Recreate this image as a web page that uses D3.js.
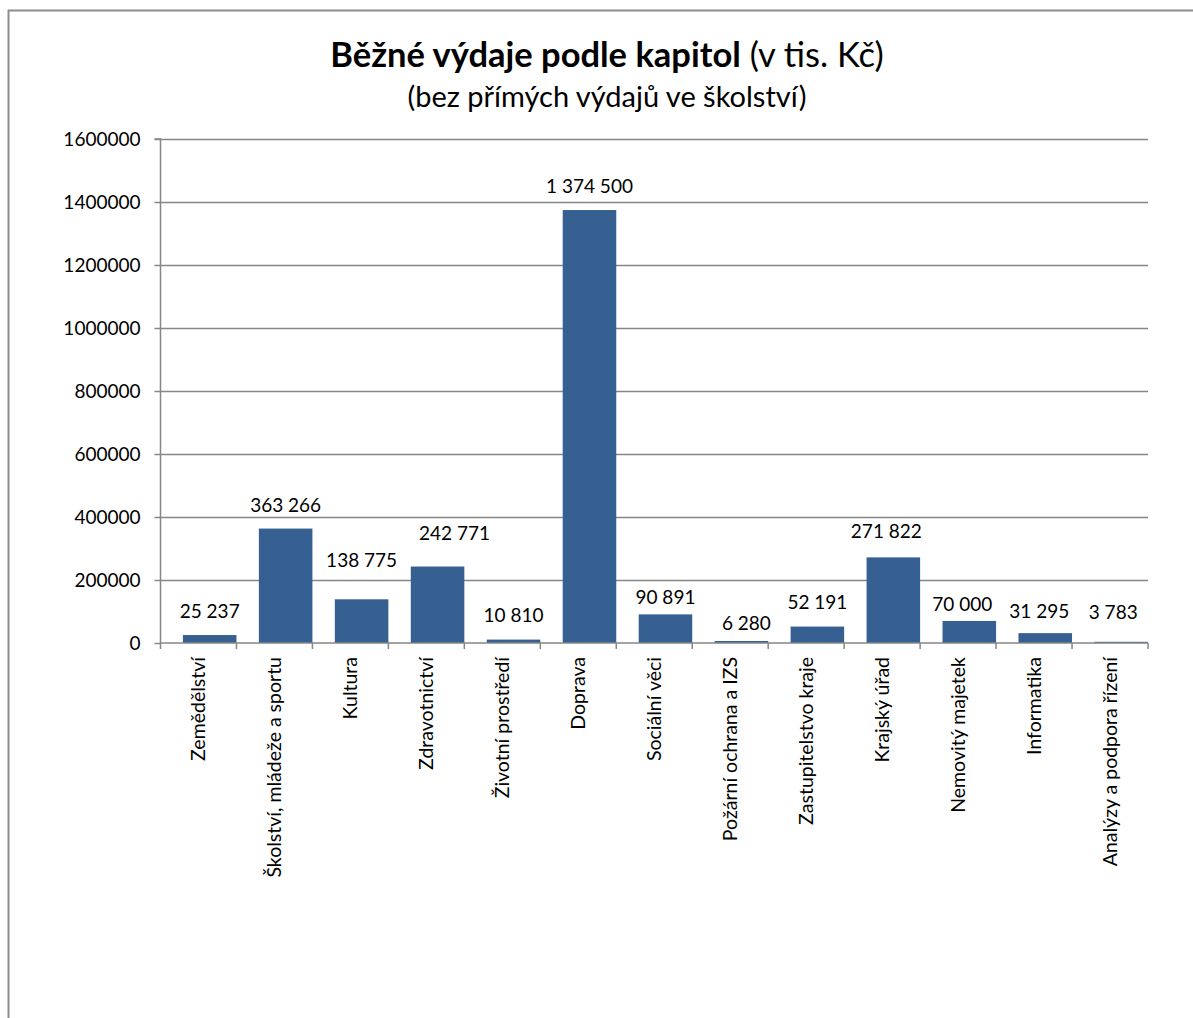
<script src="https://cdn.jsdelivr.net/npm/d3@7"></script>
<style>
  body { margin: 0; background: #fff; }
  text { font-family: Lato, "Liberation Sans", sans-serif; fill: #000; }
</style>
<div id="chart"></div>
<script>
var categories = ["Zemědělství", "Školství, mládeže a sportu", "Kultura", "Zdravotnictví",
  "Životní prostředí", "Doprava", "Sociální věci", "Požární ochrana a IZS",
  "Zastupitelstvo kraje", "Krajský úřad", "Nemovitý majetek", "Informatika",
  "Analýzy a podpora řízení"];
var values = [25237, 363266, 138775, 242771, 10810, 1374500, 90891, 6280, 52191, 271822, 70000, 31295, 3783];
var yTicks = [0, 200000, 400000, 600000, 800000, 1000000, 1200000, 1400000, 1600000];

// hand-placed data label nudges from the original (px): shift right, lift above bar top
var labelDx = [0, 0, 0, 17, 0, 0, 0, 5, 0, -7, -7, -6, -8];
var labelLift = [17, 17, 32, 27, 17.5, 17, 10, 11, 17.5, 19, 10, 15, 23];

var W = 1193, H = 1018;
var plotLeft = 160.5, plotRight = 1148, plotTop = 139, plotBottom = 643;

var svg = d3.select("#chart").append("svg")
    .attr("width", W).attr("height", H);

// outer frame
svg.append("rect")
    .attr("x", 8.5).attr("y", 10.5)
    .attr("width", W + 10).attr("height", H + 10)
    .attr("fill", "none").attr("stroke", "#8c8c8c").attr("stroke-width", 2);

// category slots, bars sit in the right part of each slot (as in the original)
var x = d3.scaleBand().domain(categories).range([plotLeft, plotRight]).padding(0);
var barX = function(c) { return x(c) + x.step() * 0.295; };
var barW = x.step() * 0.705;
var y = d3.scaleLinear().domain([0, 1600000]).range([plotBottom, plotTop]);

var locale = d3.formatLocale({decimal: ",", thousands: "\u00a0", grouping: [3], currency: ["", " Kč"]});
var fmt = locale.format(",d");

// gridlines
svg.append("g").selectAll("line").data(yTicks.filter(function(d) { return d > 0; }))
  .enter().append("line")
    .attr("x1", plotLeft).attr("x2", plotRight)
    .attr("y1", function(d) { return Math.round(y(d)) + 0.5; })
    .attr("y2", function(d) { return Math.round(y(d)) + 0.5; })
    .attr("stroke", "#868686").attr("stroke-width", 1.5);

// y axis
var yAxis = svg.append("g")
    .attr("transform", "translate(" + plotLeft + ",0)")
    .call(d3.axisLeft(y).tickValues(yTicks).tickSize(6).tickPadding(14).tickFormat(d3.format("d")));
yAxis.select(".domain").attr("stroke", "#868686").attr("stroke-width", 1.5)
    .attr("d", "M-6," + plotTop + "H0V" + plotBottom);
yAxis.selectAll(".tick line").attr("stroke", "#868686").attr("stroke-width", 1.5);
yAxis.selectAll(".tick text").style("font-size", "19px").attr("fill", "#000");

// bars
svg.append("g").selectAll("rect").data(values).enter().append("rect")
    .attr("x", function(d, i) { return barX(categories[i]); })
    .attr("y", function(d) { return y(d); })
    .attr("width", barW)
    .attr("height", function(d) { return plotBottom - y(d); })
    .attr("fill", "#376092");

// x axis line and category ticks
svg.append("line")
    .attr("x1", plotLeft).attr("x2", plotRight)
    .attr("y1", plotBottom).attr("y2", plotBottom)
    .attr("stroke", "#868686").attr("stroke-width", 1.5);
var bounds = categories.map(function(c) { return x(c); }).concat([plotRight]);
svg.append("g").selectAll("line").data(bounds).enter().append("line")
    .attr("x1", function(d) { return d; }).attr("x2", function(d) { return d; })
    .attr("y1", plotBottom).attr("y2", plotBottom + 6)
    .attr("stroke", "#868686").attr("stroke-width", 1.5);

// data labels
svg.append("g").selectAll("text").data(values).enter().append("text")
    .attr("x", function(d, i) { return barX(categories[i]) + barW / 2 + labelDx[i]; })
    .attr("y", function(d, i) { return y(d) - labelLift[i]; })
    .attr("text-anchor", "middle")
    .style("font-size", "19px")
    .text(function(d) { return fmt(d); });

// category labels
svg.append("g").selectAll("text").data(categories).enter().append("text")
    .attr("transform", function(d) {
      return "translate(" + (x(d) + x.step() / 2) + "," + (plotBottom + 14) + ") rotate(-90)";
    })
    .attr("dy", "0.35em")
    .attr("text-anchor", "end")
    .style("font-size", "19.5px")
    .text(function(d) { return d; });

// title
var title = svg.append("text")
    .attr("x", 607).attr("y", 67)
    .attr("text-anchor", "middle")
    .style("font-size", "34.5px");
title.append("tspan").style("font-weight", "bold").text("Běžné výdaje podle kapitol");
title.append("tspan").text(" (v tis. Kč)");

svg.append("text")
    .attr("x", 607).attr("y", 107)
    .attr("text-anchor", "middle")
    .style("font-size", "29px")
    .text("(bez přímých výdajů ve školství)");
</script>
